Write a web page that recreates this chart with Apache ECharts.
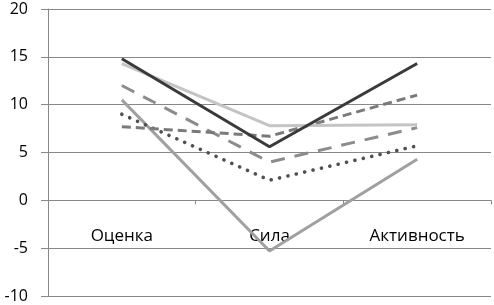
<!DOCTYPE html>
<html>
<head>
<meta charset="utf-8">
<script src="https://cdn.jsdelivr.net/npm/echarts@6/dist/echarts.min.js"></script>
<style>
  html, body { margin: 0; padding: 0; background: #fff; }
  #main { width: 494px; height: 305px; }
</style>
</head>
<body>
<div id="main"></div>
<script>
// категории и значения серий
var categories = ['Оценка', 'Сила', 'Активность'];
var darkSolid = [14.8, 5.6, 14.3];
var lightSolid = [14.3, 7.8, 7.9];
var shortDash = [7.7, 6.7, 11.0];
var longDash = [12.0, 4.0, 7.6];
var dotted = [9.0, 2.1, 5.7];
var graySolid = [10.5, -5.3, 4.3];

var font = 'Open Sans';

function line(data, color, type, cap, width) {
  return {
    type: 'line',
    data: data,
    symbol: 'none',
    lineStyle: { color: color, width: width || 3, type: type, cap: cap || 'butt' }
  };
}

var chart = echarts.init(document.getElementById('main'));
chart.setOption({
  animation: false,
  grid: { left: 48, right: 3, top: 9, bottom: 9, outerBoundsMode: 'none', containLabel: false },
  xAxis: [{
    // ось на нуле, только линия и засечки
    type: 'category',
    data: categories,
    boundaryGap: true,
    axisLine: { onZero: true, lineStyle: { color: '#888', width: 1 } },
    axisTick: { show: true, length: 4, lineStyle: { color: '#888' } },
    axisLabel: { show: false }
  }, {
    // подписи категорий под нулём
    type: 'category',
    data: categories,
    position: 'bottom',
    boundaryGap: true,
    axisLine: { show: false },
    axisTick: { show: false },
    axisLabel: { margin: -68, color: '#000', fontSize: 17, fontFamily: font }
  }],
  yAxis: {
    type: 'value',
    min: -10, max: 20, interval: 5,
    axisLine: { show: true, lineStyle: { color: '#888', width: 1 } },
    axisTick: { show: true, length: 7, lineStyle: { color: '#888' } },
    splitLine: { lineStyle: { color: '#888', width: 1 } },
    axisLabel: { margin: 20, color: '#000', fontSize: 16, fontFamily: font }
  },
  series: [
    line(graySolid, '#a0a0a0', 'solid'),
    line(dotted, '#505050', [0.1, 8.5], 'round', 3.6),
    line(longDash, '#8c8c8c', [14, 10]),
    line(shortDash, '#7a7a7a', [9, 5]),
    line(lightSolid, '#c4c4c4', 'solid'),
    line(darkSolid, '#3a3a3a', 'solid')
  ]
});
</script>
</body>
</html>
